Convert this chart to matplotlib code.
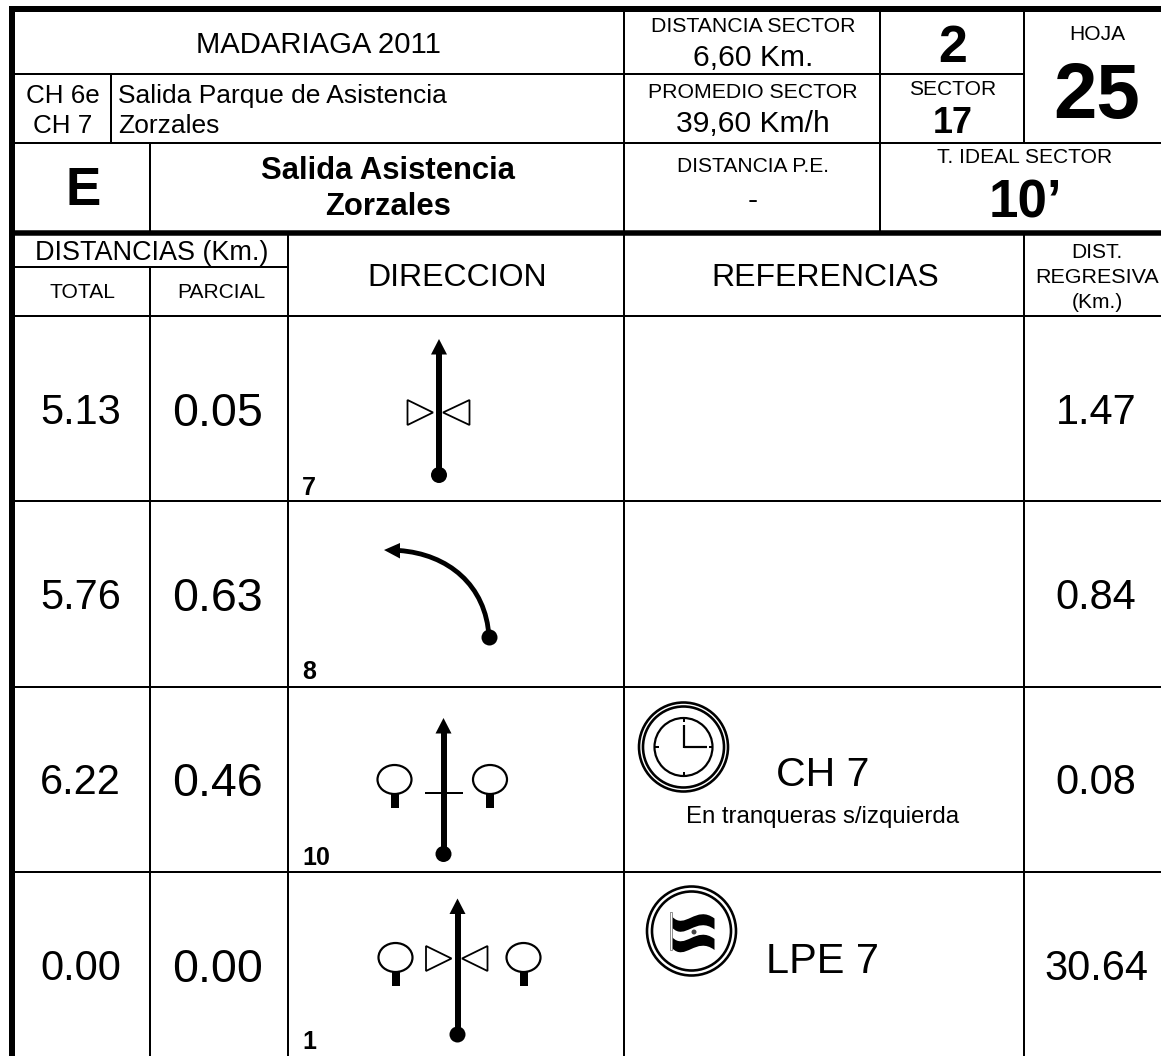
import matplotlib
matplotlib.use("Agg")
import matplotlib.pyplot as plt
from matplotlib.patches import Ellipse, Circle, PathPatch, Polygon
from matplotlib.path import Path

plt.rcParams['font.family'] = ['Liberation Sans', 'DejaVu Sans']

# Row contents
totals = ["5.13", "5.76", "6.22", "0.00"]
parciales = ["0.05", "0.63", "0.46", "0.00"]
regresivas = ["1.47", "0.84", "0.08", "30.64"]
numeros = ["7", "8", "10", "1"]

W, H = 1161, 1056
PX = 0.72  # one pixel in points at dpi 100

fig = plt.figure(figsize=(W / 100, H / 100), dpi=100)
ax = fig.add_axes([0, 0, 1, 1])
ax.set_xlim(0, W)
ax.set_ylim(H, 0)
ax.axis('off')


def txt(x, y, s, px, bold=False, ha='center'):
    ax.text(x, y, s, fontsize=px * PX, fontweight='bold' if bold else 'normal',
            ha=ha, va='baseline', color='black')


def line(x0, y0, x1, y1, w=2.0):
    ax.plot([x0, x1], [y0, y1], color='black', lw=w * PX, solid_capstyle='butt')


# --- Grid ---
LEFT = 15
for y, x0, x1 in [(73.5, LEFT, 1024), (143, LEFT, W), (266.5, LEFT, 288),
                  (315.5, LEFT, W), (501, LEFT, W), (687, LEFT, W), (872, LEFT, W)]:
    line(x0, y, x1, y)
for x, y0, y1 in [(111, 73, 143), (150, 143, 232), (150, 266, H), (288, 232, H),
                  (624, 10, H), (880, 10, 232), (1024, 10, 143), (1024, 232, H)]:
    line(x, y0, x, y1)
line(9, 9, W, 9, 6)
line(9, 232.5, W, 232.5, 5.5)
line(12, 6, 12, H, 6)

# --- Header ---
txt(318, 53, "MADARIAGA 2011", 29.2)
txt(63, 103, "CH 6e", 26)
txt(63, 133, "CH 7", 26)
txt(118, 103, "Salida Parque de Asistencia", 26.4, ha='left')
txt(118, 133, "Zorzales", 26.4, ha='left')
txt(83, 205, "E", 53, bold=True)
txt(388, 179, "Salida Asistencia", 31, bold=True)
txt(388, 215, "Zorzales", 31, bold=True)

txt(753, 32, "DISTANCIA SECTOR", 21.3)
txt(753, 65.5, "6,60 Km.", 30)
txt(753, 97.5, "PROMEDIO SECTOR", 21.3)
txt(753, 131.5, "39,60 Km/h", 30)
txt(753, 172.5, "DISTANCIA P.E.", 21)
txt(753, 208.5, "-", 30)
txt(953, 61.5, "2", 52, bold=True)
txt(953, 95, "SECTOR", 21)
txt(953, 133, "17", 36, bold=True)
txt(1097, 39.5, "HOJA", 21)
txt(1097, 118, "25", 78, bold=True)
txt(1025, 163, "T. IDEAL SECTOR", 21)
txt(1025, 218, "10’", 53, bold=True)

txt(152, 260, "DISTANCIAS (Km.)", 27)
txt(82, 298, "TOTAL", 21)
txt(221, 298, "PARCIAL", 21)
txt(457, 286, "DIRECCION", 32)
txt(825, 286, "REFERENCIAS", 32)
txt(1097, 258, "DIST.", 21)
txt(1097, 283, "REGRESIVA", 21.5)
txt(1097, 308, "(Km.)", 21)

# --- Rows ---
base_small = [424, 609, 794, 980]
base_large = [426.5, 611, 796, 982]
base_num = [495, 679, 865, 1049]
for i in range(4):
    txt(80.5, base_small[i], totals[i], 41.5)
    txt(217.5, base_large[i], parciales[i], 46.5)
    txt(1096, base_small[i], regresivas[i], 41.5)
    txt(302, base_num[i], numeros[i], 25, bold=True, ha='left')


def straight(x, tip):
    dot = tip + 136
    line(x, dot, x, tip + 14, 6)
    ax.add_patch(Polygon([(x, tip), (x - 8, tip + 15.5), (x + 8, tip + 15.5)], fc='black', ec='none'))
    ax.add_patch(Circle((x, dot), 8, fc='black', ec='none'))


def triangles(xl, apl, apr, xr, yc):
    for a, b in [(xl, apl), (xr, apr)]:
        ax.add_patch(Polygon([(a, yc - 12.5), (a, yc + 12.5), (b, yc)], fc='white', ec='black', lw=1.8 * PX))


def tree(x, y, trunk_top):
    ax.add_patch(PathPatch(Path([(x - 4, trunk_top), (x + 4, trunk_top), (x + 4, trunk_top + 15), (x - 4, trunk_top + 15), (x - 4, trunk_top)]),
                           fc='black', ec='none'))
    ax.add_patch(Ellipse((x, y), 34, 29, fc='white', ec='black', lw=2.2 * PX))


straight(439, 339)
triangles(407.5, 433, 443, 469.5, 412.5)

# curved arrow
arc = Path([(489, 637), (486, 585), (448, 554), (399, 550.5)],
           [Path.MOVETO, Path.CURVE4, Path.CURVE4, Path.CURVE4])
ax.add_patch(PathPatch(arc, fc='none', ec='black', lw=4.8 * PX))
ax.add_patch(Polygon([(384, 550), (400, 543), (400, 558.5)], fc='black', ec='none'))
ax.add_patch(Circle((489.5, 637.5), 8, fc='black', ec='none'))

straight(443.5, 718)
line(425, 793, 463, 793, 2)
tree(394.5, 779.5, 793)
tree(490, 779.5, 793)

straight(457.5, 898.5)
triangles(426, 451.5, 462, 487.5, 958.5)
tree(395.5, 957.5, 971)
tree(523.5, 957.5, 971)

# --- Clock ---
cx, cy = 683.5, 747
for r, w in [(44.5, 2.6), (40.5, 2.6), (29, 2.2)]:
    ax.add_patch(Circle((cx, cy), r, fc='none', ec='black', lw=w * PX))
line(cx, cy + 1, cx, cy - 22, 2.2)
line(cx, cy, cx + 23, cy, 2.2)
for dx, dy in [(0, -1), (0, 1), (-1, 0), (1, 0)]:
    line(cx + dx * 29, cy + dy * 29, cx + dx * 25, cy + dy * 25, 2)
txt(823, 786.5, "CH 7", 41)
txt(823, 822.5, "En tranqueras s/izquierda", 24)

# --- Flag ---
fx, fy = 691.5, 931
for r, w in [(44.5, 2.6), (39.5, 2.6)]:
    ax.add_patch(Circle((fx, fy), r, fc='none', ec='black', lw=w * PX))


def band(y0, h, color):
    x0 = fx - 19.5
    top = [(x0, y0), (x0 + 13, y0 + 14), (x0 + 24, y0 - 12), (x0 + 42.5, y0 + 2)]
    bot = [(x, y + h) for x, y in reversed(top)]
    verts = top + bot + [top[0]]
    codes = [Path.MOVETO, Path.CURVE4, Path.CURVE4, Path.CURVE4, Path.LINETO,
             Path.CURVE4, Path.CURVE4, Path.CURVE4, Path.CLOSEPOLY]
    ax.add_patch(PathPatch(Path(verts, codes), fc=color, ec='none'))


band(fy - 14.5, 11, 'black')
band(fy + 6, 11, 'black')
ax.add_patch(Circle((fx + 2.5, fy + 1), 2.5, fc='#444444', ec='none'))
ax.add_patch(PathPatch(Path([(fx - 22, fy - 19), (fx - 20, fy - 19), (fx - 20, fy + 19), (fx - 22, fy + 19), (fx - 22, fy - 19)]),
                       fc='white', ec='#777777', lw=0.8 * PX))
txt(823, 973, "LPE 7", 41.5)

fig.savefig("out.png", dpi=100, facecolor='white')
